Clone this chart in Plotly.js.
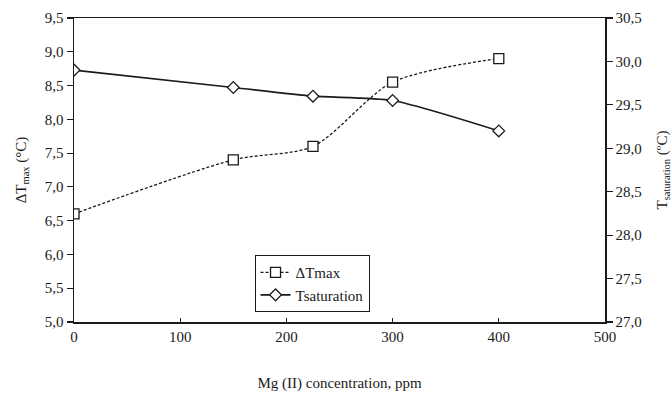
<!DOCTYPE html>
<html>
<head>
<meta charset="utf-8">
<script src="https://cdn.plot.ly/plotly-3.0.1.min.js"></script>
<style>html,body{margin:0;padding:0;background:#fff;}#chart{width:672px;height:396px;}</style>
</head>
<body>
<div id="chart"></div>
<script>
var concentration = [0, 150, 225, 300, 400];
var deltaTmax = [6.6, 7.4, 7.6, 8.55, 8.9];
var tSaturation = [29.9, 29.7, 29.6, 29.55, 29.2];
var seriesNames = ["\u0394Tmax", "Tsaturation"];

var ink = "#1a1a1a";
var fontFam = "Liberation Serif, Times New Roman, serif";

var traces = [
  {
    x: concentration, y: deltaTmax, name: seriesNames[0], type: "scatter", mode: "lines+markers",
    yaxis: "y",
    line: {color: ink, width: 1.3, dash: "3px,2px", shape: "spline", smoothing: 0.8},
    marker: {symbol: "square", size: 10, color: "#fff", line: {color: ink, width: 1.3}}
  },
  {
    x: concentration, y: tSaturation, name: seriesNames[1], type: "scatter", mode: "lines+markers",
    yaxis: "y2",
    line: {color: ink, width: 1.6, shape: "spline", smoothing: 0.6},
    marker: {symbol: "diamond", size: 9, color: "#fff", line: {color: ink, width: 1.3}}
  }
];

var layout = {
  width: 672, height: 396,
  margin: {l: 74, r: 67, t: 18, b: 74},
  paper_bgcolor: "#fff", plot_bgcolor: "#fff",
  separators: ",.",
  font: {family: fontFam, size: 15, color: ink},
  showlegend: true,
  legend: {
    x: 0.34, y: 0.22, xanchor: "left", yanchor: "top",
    bgcolor: "#fff", bordercolor: ink, borderwidth: 1,
    font: {family: fontFam, size: 15, color: ink},
    tracegroupgap: 2
  },
  xaxis: {
    range: [0, 500], dtick: 100, tick0: 0,
    showgrid: false, zeroline: false,
    showline: true, linecolor: ink, linewidth: 1.5, mirror: true,
    ticks: "inside", ticklen: 4, tickcolor: ink, tickwidth: 1.2,
    tickfont: {family: fontFam, size: 15, color: ink},
    title: {text: "Mg (II) concentration, ppm", font: {family: fontFam, size: 15, color: ink}, standoff: 34}
  },
  yaxis: {
    range: [5, 9.5], dtick: 0.5, tick0: 5, tickformat: ".1f",
    showgrid: false, zeroline: false,
    showline: true, linecolor: ink, linewidth: 1.5,
    ticks: "outside", ticklen: 6, tickcolor: ink, tickwidth: 1.2,
    tickfont: {family: fontFam, size: 15, color: ink},
    title: {text: "\u0394T<sub>max</sub> (\u00b0C)", font: {family: fontFam, size: 15, color: ink}, standoff: 14}
  },
  yaxis2: {
    overlaying: "y", side: "right",
    range: [27, 30.5], dtick: 0.5, tick0: 27, tickformat: ".1f",
    showgrid: false, zeroline: false,
    showline: true, linecolor: ink, linewidth: 1.5,
    ticks: "outside", ticklen: 6, tickcolor: ink, tickwidth: 1.2,
    tickfont: {family: fontFam, size: 15, color: ink},
    title: {text: "T<sub>saturation</sub> (\u00baC)", font: {family: fontFam, size: 15, color: ink}, standoff: 16}
  }
};

Plotly.newPlot("chart", traces, layout, {displayModeBar: false, staticPlot: true});
</script>
</body>
</html>
